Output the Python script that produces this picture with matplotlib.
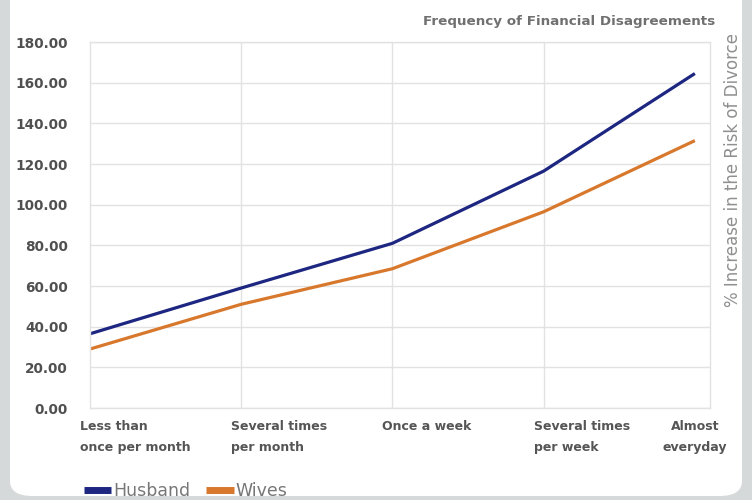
import matplotlib.pyplot as plt
from matplotlib.patches import FancyBboxPatch
import matplotlib.transforms as mtransforms

categories = ['Less than\nonce per month', 'Several times\nper month', 'Once a week',
              'Several times\nper week', 'Almost\neveryday']
husband = [36.5, 59.0, 81.0, 116.5, 164.5]
wives = [29.0, 51.0, 68.5, 96.5, 131.5]
y_ticks = [0, 20, 40, 60, 80, 100, 120, 140, 160, 180]

fig = plt.figure(figsize=(7.52, 5.0), dpi=100)
fig.patch.set_facecolor('#d5d9da')

# white rounded panel behind everything
panel = FancyBboxPatch((10 / 752, 4 / 500), 732 / 752, 540 / 500,
                       boxstyle='round,pad=0,rounding_size=0.03',
                       transform=fig.transFigure, facecolor='white',
                       edgecolor='none', zorder=-10)
fig.patches.append(panel)

ax = fig.add_axes([90 / 752, 1 - 408 / 500, 620 / 752, 366 / 500])
ax.set_facecolor('white')

x = list(range(len(categories)))
ax.plot(x, husband, color='#1d2680', linewidth=2.3, label='Husband', solid_capstyle='butt')
ax.plot(x, wives, color='#d8782c', linewidth=2.3, label='Wives', solid_capstyle='butt')

ax.set_xlim(0, 4.1)
ax.set_ylim(0, 180)
ax.set_yticks(y_ticks)
ax.set_yticklabels(['%.2f' % v for v in y_ticks])
ax.set_xticks(x)
ax.set_xticklabels(categories)

for v in y_ticks:
    ax.axhline(v, color='#e2e2e2', linewidth=1, zorder=0)
for v in x[1:4]:
    ax.axvline(v, color='#e2e2e2', linewidth=1, zorder=0)
for s in ax.spines.values():
    s.set_color('#e2e2e2')
    s.set_linewidth(1)

ax.tick_params(axis='both', length=0, colors='#555555')
ax.tick_params(axis='y', pad=16)
ax.tick_params(axis='x', pad=9)
for lab in ax.get_yticklabels():
    lab.set_fontweight('bold')
    lab.set_fontsize(9.8)
    lab.set_color('#505050')

offset = mtransforms.ScaledTranslation(-10 / 100, 0, fig.dpi_scale_trans)
for i, lab in enumerate(ax.get_xticklabels()):
    lab.set_fontweight('bold')
    lab.set_fontsize(9)
    lab.set_color('#555555')
    lab.set_linespacing(1.75)
    lab.set_verticalalignment('top')
    if i < 4:
        lab.set_horizontalalignment('left')
        lab.set_transform(lab.get_transform() + offset)
    else:
        lab.set_horizontalalignment('center')

fig.text(715 / 752, 1 - 22 / 500, 'Frequency of Financial Disagreements',
         ha='right', va='center', fontsize=9.7, fontweight='bold', color='#707070')
fig.text(733 / 752, 1 - 33 / 500, '% Increase in the Risk of Divorce',
         ha='center', va='top', rotation=90, fontsize=12, color='#8f8f8f')

leg = fig.legend(loc='lower left', bbox_to_anchor=(68 / 752, -16 / 500), ncol=2,
                 frameon=False, fontsize=12.5, handlelength=1.6, handletextpad=0.1,
                 columnspacing=0.9, labelcolor='#777777')
for h in leg.get_lines():
    h.set_linewidth(5)

fig.savefig('out.png', dpi=100, facecolor=fig.get_facecolor())
